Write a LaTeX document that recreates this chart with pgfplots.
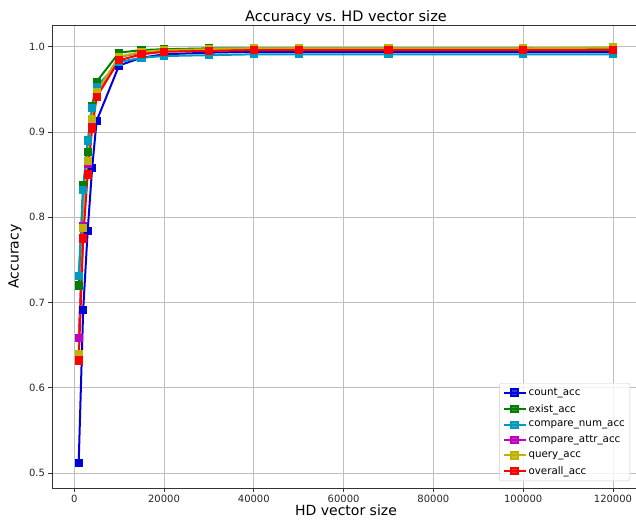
\documentclass[border=0pt]{standalone}
\usepackage{fontspec}
\setmainfont{DejaVu Sans}
\usepackage{pgfplots}
\pgfplotsset{compat=1.18}

\definecolor{mblue}{rgb}{0,0,0.85}
\definecolor{mgreen}{rgb}{0,0.5,0}
\definecolor{mcyan}{rgb}{0,0.6,0.75}
\definecolor{mmagenta}{rgb}{0.75,0,0.75}
\definecolor{myellow}{rgb}{0.75,0.7,0}
\definecolor{mred}{rgb}{1,0,0}
\definecolor{gridgray}{RGB}{190,190,190}

\begin{document}
\begin{tikzpicture}
\begin{axis}[
    scale only axis,
    width=588pt,
    height=463pt,
    xmin=-4944, xmax=126014,
    ymin=0.4824, ymax=1.0254,
    xtick={0,20000,40000,60000,80000,100000,120000},
    ytick={0.5,0.6,0.7,0.8,0.9,1.0},
    scaled x ticks=false,
    xticklabel style={/pgf/number format/.cd, fixed, 1000 sep={}},
    yticklabel style={/pgf/number format/.cd, fixed, fixed zerofill, precision=1},
    /pgf/number format/assume math mode=true,
    tick label style={font=\fontsize{10}{12}\selectfont, text=black!85},
    tick align=outside,
    tick pos=left,
    major tick length=3.5pt,
    every tick/.style={black!80, line width=0.8pt},
    axis line style={black!80, line width=0.8pt},
    grid=major,
    grid style={gridgray, line width=0.8pt},
    title={Accuracy vs.\ HD vector size},
    title style={at={(axis description cs:0.5,1)}, anchor=base, yshift=-3pt,
                 font=\fontsize{14.5}{16}\selectfont},
    xlabel={HD vector size},
    xlabel style={at={(axis description cs:0.5,0)}, anchor=base, yshift=-27pt,
                  font=\fontsize{14}{16}\selectfont},
    ylabel={Accuracy},
    ylabel style={at={(axis description cs:-0.0629,0.5)}, anchor=center,
                  font=\fontsize{14}{16}\selectfont},
    legend style={at={(axis description cs:0.983,0.015)}, anchor=south east,
                  font=\fontsize{10.3}{12}\selectfont, draw=black!20,
                  rounded corners=2pt, fill=white, fill opacity=0.8,
                  text opacity=1, inner sep=3pt, row sep=3.4pt},
    legend cell align=left,
    legend image code/.code={
        \draw[mark repeat=2, mark phase=2]
        plot coordinates {(0pt,0pt) (11pt,0pt) (22pt,0pt)};
    },
    every axis plot/.append style={line width=2pt, mark=square*, mark size=3.1pt,
                                   mark options={solid}},
]
\addplot[color=mblue] coordinates {
    (1000,0.512) (2000,0.691) (3000,0.784) (4000,0.858) (5000,0.913)
    (10000,0.978) (15000,0.987) (20000,0.991) (30000,0.993) (40000,0.994)
    (50000,0.994) (70000,0.994) (100000,0.994) (120000,0.994)
};
\addplot[color=mgreen] coordinates {
    (1000,0.720) (2000,0.838) (3000,0.876) (4000,0.930) (5000,0.959)
    (10000,0.993) (15000,0.996) (20000,0.997) (30000,0.998) (40000,0.998)
    (50000,0.998) (70000,0.998) (100000,0.998) (120000,0.998)
};
\addplot[color=mcyan] coordinates {
    (1000,0.731) (2000,0.832) (3000,0.890) (4000,0.928) (5000,0.953)
    (10000,0.982) (15000,0.987) (20000,0.989) (30000,0.990) (40000,0.991)
    (50000,0.991) (70000,0.991) (100000,0.991) (120000,0.991)
};
\addplot[color=mmagenta] coordinates {
    (1000,0.658) (2000,0.790) (3000,0.862) (4000,0.912) (5000,0.946)
    (10000,0.988) (15000,0.993) (20000,0.995) (30000,0.996) (40000,0.996)
    (50000,0.996) (70000,0.996) (100000,0.996) (120000,0.996)
};
\addplot[color=myellow] coordinates {
    (1000,0.640) (2000,0.787) (3000,0.866) (4000,0.915) (5000,0.947)
    (10000,0.988) (15000,0.994) (20000,0.996) (30000,0.997) (40000,0.998)
    (50000,0.998) (70000,0.998) (100000,0.998) (120000,0.999)
};
\addplot[color=mred] coordinates {
    (1000,0.632) (2000,0.775) (3000,0.850) (4000,0.904) (5000,0.941)
    (10000,0.984) (15000,0.991) (20000,0.994) (30000,0.995) (40000,0.996)
    (50000,0.996) (70000,0.996) (100000,0.996) (120000,0.996)
};
\legend{count\_acc, exist\_acc, compare\_num\_acc, compare\_attr\_acc, query\_acc, overall\_acc}
\end{axis}
\pgfresetboundingbox
\path[use as bounding box] (-52pt,-34pt) rectangle (584pt,488pt);
\end{tikzpicture}
\end{document}
